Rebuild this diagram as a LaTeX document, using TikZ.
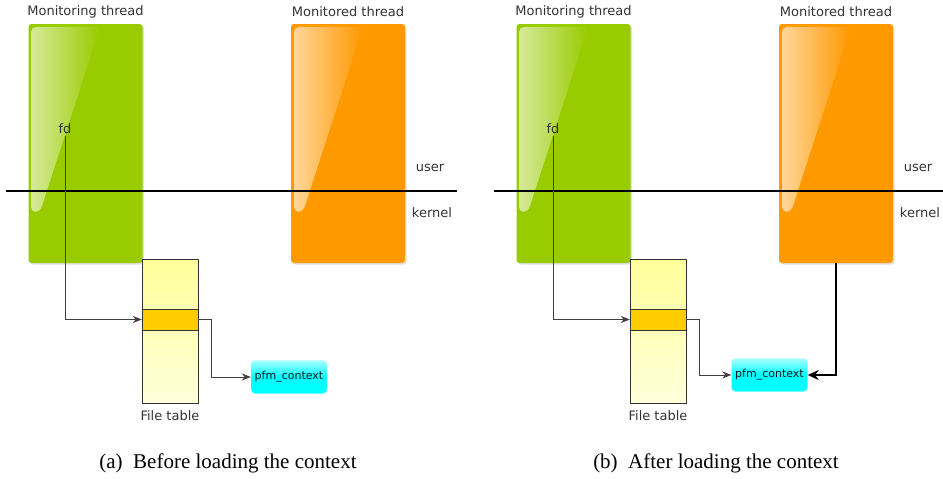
\documentclass[tikz,border=0pt]{standalone}
\usepackage{fontspec}
\setmainfont{Liberation Serif}
\newfontfamily\labelfont{DejaVu Sans}
\usetikzlibrary{arrows.meta,fadings,shadows}

\definecolor{threadgreen}{HTML}{99CC00}
\definecolor{threadorange}{HTML}{FF9900}
\definecolor{tableyellow}{HTML}{FFFF99}
\definecolor{slotyellow}{HTML}{FFCC00}
\definecolor{ctxcyan}{HTML}{00FFFF}
\definecolor{labelgray}{HTML}{333333}

\tikzfading[name=glossfade, left color=transparent!15, right color=transparent!100]

\tikzset{
  thread/.style={rounded corners=3pt, minimum width=114pt, minimum height=239pt,
    inner sep=0pt, drop shadow={opacity=0.25, shadow xshift=1.5pt, shadow yshift=-1.5pt}},
  gloss/.style={white, path fading=glossfade, fill opacity=0.7, rounded corners=5pt},
  txt/.style={font=\labelfont\fontsize{13}{15}\selectfont, text=labelgray, inner sep=0pt},
  ftable/.style={draw=black!80, top color=tableyellow, bottom color=tableyellow!35,
    minimum width=56pt, minimum height=144pt, inner sep=0pt},
  slot/.style={draw=black!80, fill=slotyellow, minimum width=56pt, minimum height=21pt, inner sep=0pt},
  ctx/.style={draw=ctxcyan!40, rounded corners=4pt, top color=ctxcyan!35, bottom color=ctxcyan,
    middle color=ctxcyan, minimum width=76pt, minimum height=33pt, inner sep=0pt,
    font=\labelfont\fontsize{11}{13}\selectfont, text=black!80!teal},
  link/.style={draw=black!75, line width=0.8pt, -{Stealth[length=9pt,width=7pt]}},
  caption/.style={font=\fontsize{21}{24}\selectfont, inner sep=0pt},
}

\begin{document}
\begin{tikzpicture}[x=1pt,y=-1pt]
  \useasboundingbox (0,0) rectangle (943,479);

  % (a) before loading the context
  \node[thread, fill=threadgreen] (mona) at (85.5,143.5) {};
  \fill[gloss] (31,27) -- (100,27) -- (40,212) -- (31,212) -- cycle;
  \node[thread, fill=threadorange] (obsa) at (348,143.5) {};
  \fill[gloss] (294,27) -- (363,27) -- (303,212) -- (294,212) -- cycle;
  \node[txt] (monla) at (85.5,12) {Monitoring thread};
  \node[txt] (obsla) at (348,12) {Monitored thread};
  \node[txt] (fda) at (65,129) {fd};
  \draw[line width=1.2pt] (6,191) -- (457,191);
  \node[txt] (usera) at (430,168) {user};
  \node[txt] (kerna) at (432,213) {kernel};

  \node[ftable] (taba) at (170,331) {};
  \node[slot] (slota) at (170,319.5) {};
  \node[txt] (tabla) at (170,416) {File table};
  \node[ctx] (ctxa) at (289,377) {pfm\_context};

  \draw[link] (fda.south) ++(0,2) |- (slota.west);
  \draw[link] (slota.east) -- ++(13,0) |- (ctxa.west);
  \node[caption] (capa) at (228,463) {(a)\enspace Before loading the context};

  % (b) after loading the context
  \node[thread, fill=threadgreen] (monb) at (573.5,143.5) {};
  \fill[gloss] (519,27) -- (588,27) -- (528,212) -- (519,212) -- cycle;
  \node[thread, fill=threadorange] (obsb) at (836,143.5) {};
  \fill[gloss] (782,27) -- (851,27) -- (791,212) -- (782,212) -- cycle;
  \node[txt] (monlb) at (573.5,12) {Monitoring thread};
  \node[txt] (obslb) at (836,12) {Monitored thread};
  \node[txt] (fdb) at (553,129) {fd};
  \draw[line width=1.2pt] (494,191) -- (943,191);
  \node[txt] (userb) at (918,168) {user};
  \node[txt] (kernb) at (920,213) {kernel};

  \node[ftable] (tabb) at (658,331) {};
  \node[slot] (slotb) at (658,319.5) {};
  \node[txt] (tablb) at (658,416) {File table};
  \node[ctx] (ctxb) at (769.5,375) {pfm\_context};

  \draw[link] (fdb.south) ++(0,2) |- (slotb.west);
  \draw[link] (slotb.east) -- ++(13,0) |- (ctxb.west);
  \draw[draw=black, line width=2.2pt, -{Stealth[length=11pt,width=10pt]}] (obsb.south) |- (ctxb.east);
  \node[caption] (capb) at (716,463) {(b)\enspace After loading the context};
\end{tikzpicture}
\end{document}
